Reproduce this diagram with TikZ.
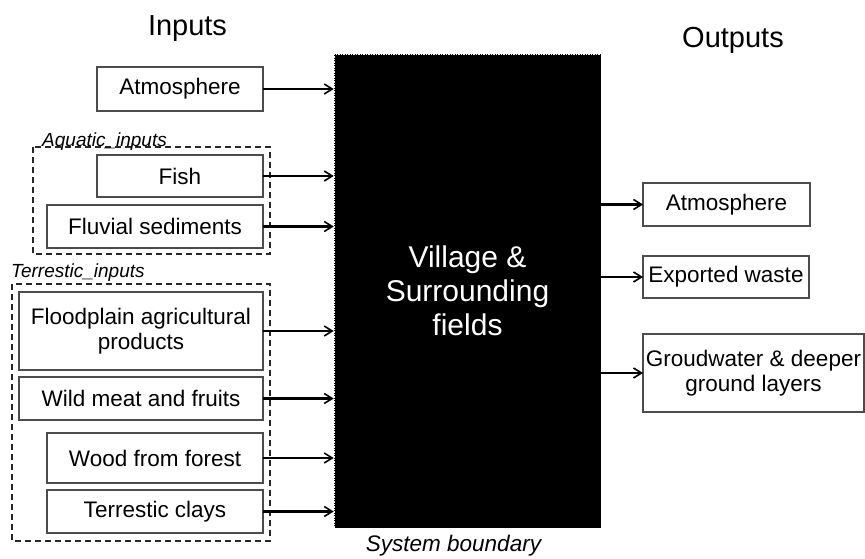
\documentclass[tikz,border=0pt]{standalone}
\usepackage{fontspec}
\setmainfont{Liberation Sans}
\usetikzlibrary{
    arrows.meta,
    positioning
}
\tikzset{
    every picture/.style = {
        > = {Straight Barb[length = 8pt, width = 10pt, line width = 1.6pt]}
    },
    flowbox/.style = {
        draw = black!70,
        line width = 1.3pt,
        fill = white,
        inner sep = 0pt,
        outer sep = 0pt,
        align = center,
        font = \fontsize{22.5}{25.5}\selectfont
    },
    grouplabel/.style = {
        inner sep = 0pt,
        anchor = base west,
        font = \fontsize{19}{22}\selectfont\itshape
    },
    groupframe/.style = {
        draw = black!85,
        line width = 1.5pt,
        dash pattern = on 6pt off 4pt
    },
    title/.style = {
        inner sep = 0pt,
        anchor = base,
        font = \fontsize{29}{34}\selectfont
    },
    flow/.style = {
        ->,
        line width = 2.2pt
    }
}

\begin{document}
\begin{tikzpicture}[x = 1pt, y = -1pt]

    \useasboundingbox (0, 0) rectangle (865, 559);

    % titles
    \node[title] (inTitle) at (187.5, 36) {Inputs};
    \node[title] (outTitle) at (733, 48) {Outputs};

    % the system
    \node[fill = black, draw = white, line width = 0.6pt, dash pattern = on 1.5pt off 1pt,
          minimum width = 267, minimum height = 474, inner sep = 0pt,
          text = white, align = center, font = \fontsize{30}{34}\selectfont]
        (sys) at (467.5, 291) {Village \&\\ Surrounding\\ fields};
    \node[inner sep = 0pt, anchor = base, font = \fontsize{22.5}{26}\selectfont\itshape]
        (boundary) at (453.5, 551) {System boundary};

    % groups of inputs
    \draw[groupframe] (33, 147) rectangle (270, 254);
    \node[grouplabel] (aquatic) at (42, 147) {Aquatic\_inputs};
    \draw[groupframe] (12, 284) rectangle (270, 541);
    \node[grouplabel] (terrestic) at (11, 277) {Terrestic\_inputs};

    % inputs
    \node[flowbox, minimum width = 166, minimum height = 44] (atmIn) at (180, 89) {Atmosphere};
    \node[flowbox, minimum width = 166, minimum height = 42] (fish) at (180, 176) {Fish};
    \node[flowbox, minimum width = 216, minimum height = 43] (fluvial) at (155, 226.5) {Fluvial sediments};
    \node[flowbox, minimum width = 244, minimum height = 78] (flood) at (141, 331) {Floodplain agricultural\\ products};
    \node[flowbox, minimum width = 244, minimum height = 43] (wild) at (141, 398.5) {Wild meat and fruits};
    \node[flowbox, minimum width = 216, minimum height = 50] (wood) at (155, 458) {Wood from forest};
    \node[flowbox, minimum width = 216, minimum height = 43] (clays) at (155, 511.5) {Terrestic clays};

    % outputs
    \node[flowbox, minimum width = 167, minimum height = 43] (atmOut) at (726.5, 204.5) {Atmosphere};
    \node[flowbox, minimum width = 166, minimum height = 42] (waste) at (726, 277) {Exported waste};
    \node[flowbox, minimum width = 221, minimum height = 78] (ground) at (753.5, 373) {Groudwater \& deeper\\ ground layers};

    % flows in
    \foreach \src in {atmIn, fish, fluvial, flood, wild, wood, clays}
        \draw[flow] (\src.east) -- (\src.east -| sys.west);

    % flows out
    \foreach \dst in {atmOut, waste, ground}
        \draw[flow] (sys.east |- \dst.west) -- (\dst.west);

\end{tikzpicture}
\end{document}
